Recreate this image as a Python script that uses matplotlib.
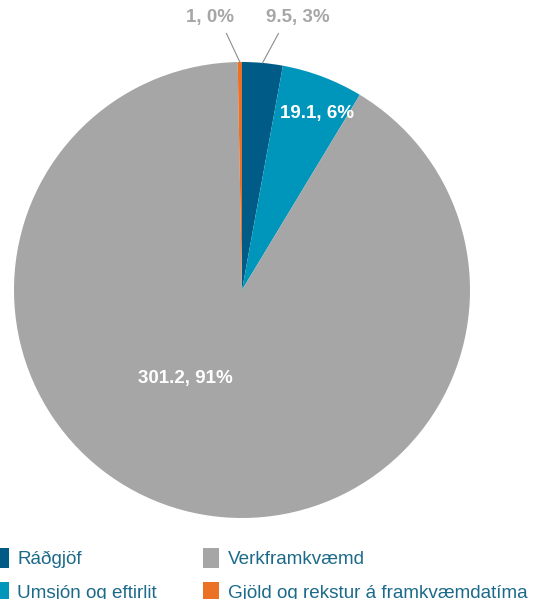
import numpy as np
import matplotlib.pyplot as plt

plt.rcParams['font.family'] = ['Liberation Sans', 'DejaVu Sans']

flokkar = ['Ráðgjöf', 'Umsjón og eftirlit', 'Verkframkvæmd', 'Gjöld og rekstur á framkvæmdatíma']
gildi = [9.5, 19.1, 301.2, 1]
hlutfall = ['3%', '6%', '91%', '0%']
litir = ['#005b86', '#0096bb', '#a6a6a6', '#ea7125']

fig = plt.figure(figsize=(5.33, 5.99), dpi=100)
# pie centre ~ (242, 290) px, radius ~228 px
ax = fig.add_axes([14 / 533, 81 / 599, 456 / 533, 456 / 599])
wedges, _ = ax.pie(gildi, colors=litir, startangle=90, counterclock=False,
                   wedgeprops=dict(linewidth=0))
ax.set_xlim(-1, 1)
ax.set_ylim(-1, 1)
ax.set_aspect('equal')

labels = ['%g, %s' % (v, p) for v, p in zip(gildi, hlutfall)]

# labels inside the big slices
ax.text(0.327, 0.776, labels[1], color='white', fontsize=13.5, fontweight='bold',
        ha='center', va='center')
ax.text(-0.25, -0.386, labels[2], color='white', fontsize=13.5, fontweight='bold',
        ha='center', va='center')

# small slices get labels outside with leader lines
for i, (tx, ty) in [(0, (0.245, 1.193)), (3, (-0.14, 1.193))]:
    w = wedges[i]
    mid = np.deg2rad((w.theta1 + w.theta2) / 2)
    sx, sy = np.cos(mid), np.sin(mid)
    ex = sx + (tx - sx) * 0.45
    ax.plot([sx, ex], [sy, 1.125], color='#8c8c8c', lw=0.8, clip_on=False)
    ax.text(tx, ty, labels[i], color='#a6a6a6', fontsize=13.5, fontweight='bold',
            ha='center', va='center')

leg = fig.legend(wedges, flokkar, ncol=2, loc='upper left',
                 bbox_to_anchor=(-0.015, 0.085), frameon=False,
                 fontsize=13.6, handlelength=0.88, handleheight=1.25,
                 handletextpad=0.45, columnspacing=2.43, labelspacing=0.7,
                 borderpad=0, borderaxespad=0)
for t in leg.get_texts():
    t.set_color('#1c6a8a')

fig.savefig('out.png', dpi=100)
